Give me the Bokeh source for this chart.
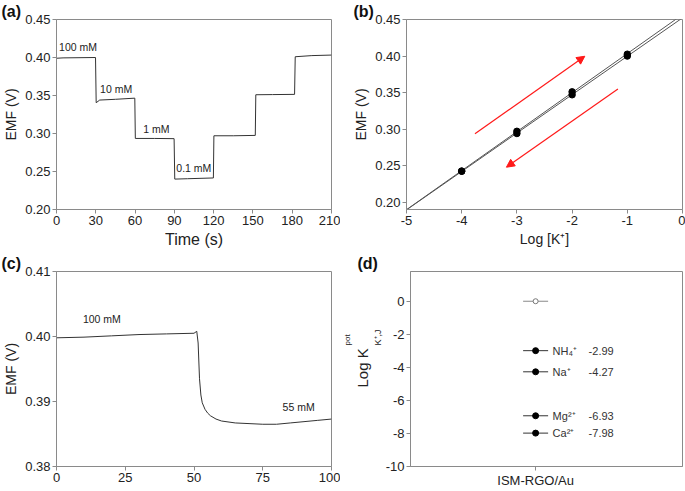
import numpy as np
from bokeh.plotting import figure
from bokeh.layouts import column, row
from bokeh.models import (Title, Arrow, NormalHead, FixedTicker, PrintfTickFormatter,
                          Range1d, ColumnDataSource)
from bokeh.embed import file_html
from bokeh.resources import INLINE
from bokeh.core.properties import value

FONT = "Liberation Sans"

# ---------------- data ----------------
time_a = [0, 5, 29.8, 30.3, 33, 45, 59.8, 60.2, 75, 89.8, 90.3, 100, 119.8, 120.2,
          135, 151.8, 152.2, 165, 181.8, 182.3, 195, 210]
emf_a = [0.3990, 0.3995, 0.4000, 0.3405, 0.3440, 0.3450, 0.3465, 0.2935, 0.2935, 0.2932,
         0.2400, 0.2405, 0.2415, 0.2970, 0.2970, 0.2975, 0.3510, 0.3512, 0.3515, 0.4010,
         0.4025, 0.4032]
step_labels = ["100 mM", "10 mM", "1 mM", "0.1 mM"]
step_label_x = [2, 33.3, 66.2, 91.5]
step_label_y = [0.4060, 0.3512, 0.2978, 0.2470]

log_k = [-4, -3, -2, -1]
emf_up = [0.2425, 0.2940, 0.3470, 0.4000]
emf_down = [0.2425, 0.2970, 0.3510, 0.4025]
arrow_up = (-3.76, 0.2937, -1.77, 0.3997)
arrow_down = (-1.17, 0.3548, -3.19, 0.2479)

time_c = [0, 10, 20, 30, 40, 50, 51, 51.5, 52, 52.5, 53, 54, 55, 56, 58, 60, 65, 70, 75,
          80, 85, 90, 95, 100]
emf_c = [0.3998, 0.3999, 0.4001, 0.4003, 0.4004, 0.4005, 0.4008, 0.3990, 0.3935, 0.3910,
         0.3898, 0.3888, 0.3882, 0.3878, 0.3873, 0.3870, 0.3867, 0.3866, 0.3865, 0.3865,
         0.3867, 0.3869, 0.3871, 0.3873]
conc_labels = ["100 mM", "55 mM"]
conc_label_x = [9.6, 82.2]
conc_label_y = [0.4018, 0.3883]

electrode = ["ISM-RGO/Au"]
primary_logk = [0.0]
ions = ["NH\u2084\u207a", "Na\u207a", "Mg\u00b2\u207a", "Ca\u00b2\u207a"]
ion_logk = [-2.99, -4.27, -6.93, -7.98]


def style(p):
    p.outline_line_color = "#8a8a8a"
    p.outline_line_width = 1
    p.xgrid.visible = False
    p.ygrid.visible = False
    p.background_fill_color = "white"
    p.border_fill_color = "white"
    for ax in p.axis:
        ax.axis_line_color = "#8a8a8a"
        ax.major_tick_line_color = "#8a8a8a"
        ax.major_tick_out = 4
        ax.major_tick_in = 0
        ax.minor_tick_line_color = None
        ax.major_label_text_font = FONT
        ax.major_label_text_font_size = "13px"
        ax.major_label_text_color = "#222222"
        ax.major_label_standoff = 2
        ax.axis_label_text_font = FONT
        ax.axis_label_text_font_style = "normal"
        ax.axis_label_text_font_size = "14px"
        ax.axis_label_text_color = "#222222"
        ax.axis_label_standoff = 3


def panel_title(p, txt, offset):
    p.title.text = txt
    p.title.align = "left"
    p.title.offset = offset
    p.title.standoff = 0
    p.title.text_font = FONT
    p.title.text_font_size = "16px"
    p.title.text_font_style = "bold"
    p.title.text_color = "#111111"
    p.title.vertical_align = "bottom"


# ---------------- (a) ----------------
pa = figure(width=340, height=250, x_range=Range1d(0, 210), y_range=Range1d(0.20, 0.45),
            output_backend="svg", toolbar_location=None,
            min_border_left=55, min_border_right=9, min_border_top=17, min_border_bottom=41)
pa.line(time_a, emf_a, line_color="#333333", line_width=1)
pa.text(x=step_label_x, y=step_label_y, text=step_labels, text_font=value(FONT),
        text_font_size=value("10.5px"), text_color="#222222", text_baseline="bottom")
style(pa)
pa.xaxis.ticker = FixedTicker(ticks=[0, 30, 60, 90, 120, 150, 180, 210])
pa.yaxis.ticker = FixedTicker(ticks=[0.20, 0.25, 0.30, 0.35, 0.40, 0.45])
pa.yaxis.formatter = PrintfTickFormatter(format="%.2f")
pa.xaxis.axis_label = "Time (s)"
pa.xaxis.axis_label_text_font_size = "16px"
pa.yaxis.axis_label = "EMF (V)"
panel_title(pa, "(a)", -55)

# ---------------- (b) ----------------
pb = figure(width=345, height=250, x_range=Range1d(-5, 0), y_range=Range1d(0.19, 0.45),
            output_backend="svg", toolbar_location=None,
            min_border_left=66, min_border_right=3, min_border_top=17, min_border_bottom=41)
xfit = np.array([-5.0, 0.0])
for ys in (emf_up, emf_down):
    c = np.polyfit(log_k, ys, 1)
    pb.line(xfit, np.polyval(c, xfit), line_color="#555555", line_width=1)
for ys in (emf_up, emf_down):
    pb.scatter(log_k, ys, marker="circle", size=6.5, fill_color="black", line_color="black")
for (x0, y0, x1, y1) in (arrow_up, arrow_down):
    pb.add_layout(Arrow(end=NormalHead(size=8, fill_color="#ff1a1a", line_color="#ff1a1a"),
                        x_start=x0, y_start=y0, x_end=x1, y_end=y1,
                        line_color="#ff1a1a", line_width=1.2))
style(pb)
pb.xaxis.ticker = FixedTicker(ticks=[-5, -4, -3, -2, -1, 0])
pb.xaxis.major_label_overrides = {-5: "-5", -4: "-4", -3: "-3", -2: "-2", -1: "-1", 0: "0"}
pb.yaxis.ticker = FixedTicker(ticks=[0.20, 0.25, 0.30, 0.35, 0.40, 0.45])
pb.yaxis.formatter = PrintfTickFormatter(format="%.2f")
pb.xaxis.axis_label = "Log [K\u207a]"
pb.yaxis.axis_label = "EMF (V)"
panel_title(pb, "(b)", -53)

# ---------------- (c) ----------------
pc = figure(width=340, height=241, x_range=Range1d(0, 100), y_range=Range1d(0.38, 0.41),
            output_backend="svg", toolbar_location=None,
            min_border_left=55, min_border_right=9, min_border_top=21, min_border_bottom=25)
pc.line(time_c, emf_c, line_color="#333333", line_width=1)
pc.text(x=conc_label_x, y=conc_label_y, text=conc_labels, text_font=value(FONT),
        text_font_size=value("10.5px"), text_color="#222222", text_baseline="bottom")
style(pc)
pc.xaxis.ticker = FixedTicker(ticks=[0, 25, 50, 75, 100])
pc.yaxis.ticker = FixedTicker(ticks=[0.38, 0.39, 0.40, 0.41])
pc.yaxis.formatter = PrintfTickFormatter(format="%.2f")
pc.yaxis.axis_label = "EMF (V)"
panel_title(pc, "(c)", -55)

# ---------------- (d) ----------------
pd = figure(width=345, height=241, x_range=Range1d(-0.92, 1.08), y_range=Range1d(-10, 1.8),
            output_backend="svg", toolbar_location=None,
            min_border_left=66, min_border_right=3, min_border_top=21, min_border_bottom=25)
xpos = [0.0] * len(ions)
pd.scatter([0.0], primary_logk, marker="dash", size=25, line_color="#888888", line_width=1)
pd.scatter([0.0], primary_logk, marker="circle", size=5, fill_color="white",
           line_color="#777777", line_width=1)
pd.scatter(xpos, ion_logk, marker="dash", size=25, line_color="#333333", line_width=1)
pd.scatter(xpos, ion_logk, marker="circle", size=6, fill_color="black", line_color="black")
src = ColumnDataSource(dict(x=xpos, y=ion_logk, ion=ions,
                            val=[f"{v:.2f}" for v in ion_logk]))
pd.text(x="x", y="y", text="ion", source=src, x_offset=17, text_font=value(FONT),
        text_font_size=value("11px"), text_color="#333333", text_baseline="middle")
pd.text(x="x", y="y", text="val", source=src, x_offset=53, text_font=value(FONT),
        text_font_size=value("11px"), text_color="#333333", text_baseline="middle")
style(pd)
pd.xaxis.ticker = FixedTicker(ticks=[0])
pd.xaxis.major_label_overrides = {0: electrode[0]}
pd.yaxis.ticker = FixedTicker(ticks=[-10, -8, -6, -4, -2, 0])
pd.yaxis.major_label_overrides = {-10: "-10", -8: "-8", -6: "-6", -4: "-4", -2: "-2", 0: "0"}
# y-axis label "Log K^pot_(K+,J)" from stacked side titles
pd.add_layout(Title(text="K\u207a,J", align="left", offset=121, standoff=0,
                    text_font=FONT, text_font_size="9px", text_font_style="normal",
                    text_color="#222222"), "left")
pd.add_layout(Title(text="Log K", align="left", offset=79, standoff=0,
                    text_font=FONT, text_font_size="15px", text_font_style="normal",
                    text_color="#222222"), "left")
pd.add_layout(Title(text="pot", align="left", offset=121, standoff=0,
                    text_font=FONT, text_font_size="8px", text_font_style="normal",
                    text_color="#222222"), "left")
panel_title(pd, "(d)", -53)

layout = column(row(pa, pb), row(pc, pd))
open("out.html", "w").write(file_html(layout, INLINE))
